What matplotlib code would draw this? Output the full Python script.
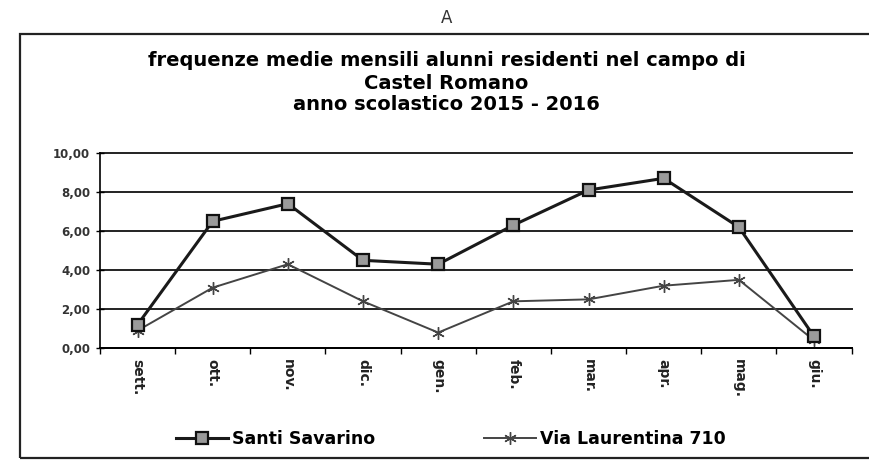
import matplotlib
matplotlib.use("Agg")
import matplotlib.pyplot as plt
from matplotlib.patches import Rectangle

plt.rcParams['font.family'] = ['DejaVu Sans']

# dati
mesi = ["sett.", "ott.", "nov.", "dic.", "gen.", "feb.", "mar.", "apr.", "mag.", "giu."]
santi_savarino = [1.2, 6.5, 7.4, 4.5, 4.3, 6.3, 8.1, 8.7, 6.2, 0.6]
via_laurentina = [0.9, 3.1, 4.3, 2.4, 0.8, 2.4, 2.5, 3.2, 3.5, 0.4]
y_ticks = [0, 2, 4, 6, 8, 10]
y_labels = ["0,00", "2,00", "4,00", "6,00", "8,00", "10,00"]

fig = plt.figure(figsize=(8.69, 4.75), dpi=100)
ax = fig.add_axes([0.115, 0.267, 0.865, 0.411])

x = [i + 0.5 for i in range(len(mesi))]
ax.plot(x, santi_savarino, color="#1a1a1a", lw=2.2, marker="s", ms=8,
        mfc="#9a9a9a", mec="#111111", mew=1.6, label="Santi Savarino", zorder=4)
ax.plot(x, via_laurentina, color="#444444", lw=1.4, marker=(6, 2, 0), ms=9,
        mec="#444444", mew=1.0, label="Via Laurentina 710", zorder=3)

ax.set_xlim(0, 10)
ax.set_ylim(0, 10)
ax.set_yticks(y_ticks)
ax.set_yticklabels(y_labels, fontsize=8.5, fontweight="bold", color="#333333")
ax.set_xticks(range(11))
ax.set_xticklabels([])
ax.set_xticks(x, minor=True)
ax.set_xticklabels(mesi, minor=True, rotation=270, fontsize=10,
                   fontweight="bold", color="#222222", va="top")
ax.tick_params(axis="x", which="minor", length=0, pad=8)
ax.tick_params(axis="x", which="major", length=4, width=1, direction="out")
ax.tick_params(axis="y", length=6, width=1, direction="inout", pad=4)

ax.grid(axis="y", color="#222222", lw=1.4)
for gl in ax.get_ygridlines():
    gl.set_clip_on(False)
ax.set_axisbelow(True)
for s in ["top", "right"]:
    ax.spines[s].set_visible(False)
ax.spines["left"].set_linewidth(1.2)
ax.spines["bottom"].set_linewidth(1.4)

fig.text(0.514, 0.873, "frequenze medie mensili alunni residenti nel campo di",
         ha="center", va="center", fontsize=14, fontweight="bold")
fig.text(0.514, 0.825, "Castel Romano", ha="center", va="center",
         fontsize=14, fontweight="bold")
fig.text(0.514, 0.779, "anno scolastico 2015 - 2016", ha="center", va="center",
         fontsize=14, fontweight="bold")
fig.text(0.514, 0.962, "A", ha="center", va="center", fontsize=12, color="#333333")

fig.legend(loc="center", bbox_to_anchor=(0.519, 0.075), ncol=2, frameon=False,
           columnspacing=6.3, handlelength=3.0, handletextpad=0.2,
           prop={"size": 12.5, "weight": "bold"})

fig.patches.append(Rectangle((20 / 869, 1 - 458 / 475), 1.0, (458 - 34) / 475,
                             transform=fig.transFigure, fill=False,
                             ec="#222222", lw=1.6))

fig.savefig("out.png", dpi=100)
